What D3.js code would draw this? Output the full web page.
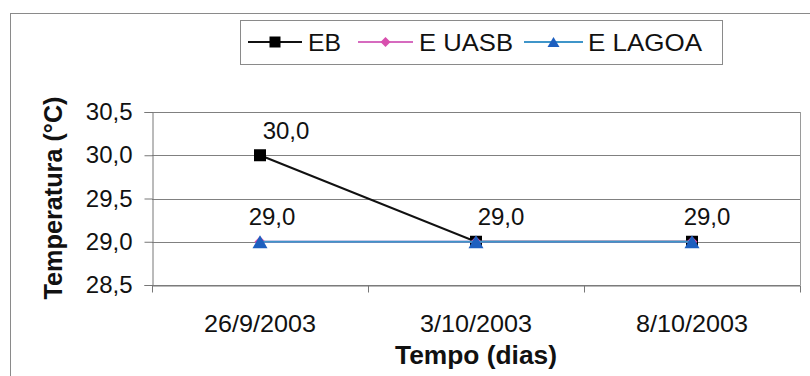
<!DOCTYPE html>
<html>
<head>
<meta charset="utf-8">
<script src="https://cdn.jsdelivr.net/npm/d3@7"></script>
<style>
  html, body { margin: 0; padding: 0; background: #fff; }
  svg { display: block; }
  text { font-family: "Liberation Sans", Arial, sans-serif; fill: #111; }
</style>
</head>
<body>
<svg id="chart" width="810" height="376"></svg>
<script>
// Sampling dates and temperatures (°C) per sampling point
const dates = ["26/9/2003", "3/10/2003", "8/10/2003"];
const ebValues = [30.0, 29.0, 29.0];
const uasbValues = [29.0, 29.0, 29.0];
const lagoaValues = [29.0, 29.0, 29.0];
const yTicks = [28.5, 29.0, 29.5, 30.0, 30.5];
const seriesNames = ["EB", "E UASB", "E LAGOA"];

// Labelled values: [series index, date index]
const labelled = [[0, 0], [2, 0], [0, 1], [0, 2]];

const series = [
  { name: seriesNames[0], values: ebValues, line: "#111", fill: "#000", marker: "square" },
  { name: seriesNames[1], values: uasbValues, line: "#d66bbf", fill: "#d84fae", marker: "diamond" },
  { name: seriesNames[2], values: lagoaValues, line: "#3f95c9", fill: "#1d5fbf", marker: "triangle" }
];

const svg = d3.select("#chart");
const plot = { left: 152, right: 800, top: 112, bottom: 285 };

const locale = d3.formatLocale({ decimal: ",", thousands: ".", grouping: [3], currency: ["R$", ""] });
const fmt = locale.format(".1f");

const x = d3.scaleBand().domain(dates).range([plot.left, plot.right]).padding(0);
const y = d3.scaleLinear().domain([28.5, 30.5]).range([plot.bottom, plot.top]);

// Outer chart frame
svg.append("rect")
  .attr("x", 10.5).attr("y", 13.5).attr("width", 830).attr("height", 400)
  .attr("fill", "none").attr("stroke", "#8a8a8a").attr("stroke-width", 1);

// Horizontal gridlines
svg.append("g")
  .selectAll("line").data(yTicks).join("line")
  .attr("x1", plot.left).attr("x2", plot.right)
  .attr("y1", d => Math.round(y(d)) + 0.5).attr("y2", d => Math.round(y(d)) + 0.5)
  .attr("stroke", "#808080").attr("stroke-width", 1);

// Right border of the plot area
svg.append("line")
  .attr("x1", plot.right + 0.5).attr("x2", plot.right + 0.5)
  .attr("y1", plot.top).attr("y2", plot.bottom)
  .attr("stroke", "#9a9a9a");

// Y axis
const yAxis = svg.append("g")
  .attr("transform", `translate(${plot.left + 0.5},0)`)
  .call(d3.axisLeft(y).tickValues(yTicks).tickSize(8).tickPadding(12).tickFormat(fmt));
yAxis.select(".domain").attr("stroke", "#777");
yAxis.selectAll(".tick line").attr("stroke", "#777");
yAxis.selectAll(".tick text")
  .attr("font-size", 24).attr("fill", "#111")
  .attr("font-family", "Liberation Sans, Arial, sans-serif");

// X axis: baseline, boundary ticks and date labels
const xAxis = svg.append("g")
  .attr("transform", `translate(0,${Math.round(plot.bottom) + 0.5})`)
  .call(d3.axisBottom(x).tickSize(0).tickPadding(29));
xAxis.select(".domain").attr("stroke", "#777");
xAxis.selectAll(".tick text")
  .attr("font-size", 24).attr("fill", "#111")
  .attr("font-family", "Liberation Sans, Arial, sans-serif")
  .attr("textLength", 112).attr("lengthAdjust", "spacingAndGlyphs");
const bounds = dates.map(d => x(d)).concat([x(dates[dates.length - 1]) + x.bandwidth()]);
xAxis.selectAll("line.bound").data(bounds).join("line")
  .attr("class", "bound")
  .attr("x1", d => Math.round(d) + 0.5).attr("x2", d => Math.round(d) + 0.5)
  .attr("y1", 0).attr("y2", 7)
  .attr("stroke", "#777");

// Axis titles
svg.append("text")
  .attr("x", 476).attr("y", 364)
  .attr("text-anchor", "middle")
  .attr("font-size", 25).attr("font-weight", "bold")
  .attr("textLength", 162).attr("lengthAdjust", "spacingAndGlyphs")
  .text("Tempo (dias)");
svg.append("text")
  .attr("transform", "translate(62,198) rotate(-90)")
  .attr("text-anchor", "middle")
  .attr("font-size", 25).attr("font-weight", "bold")
  .attr("textLength", 203).attr("lengthAdjust", "spacingAndGlyphs")
  .text("Temperatura (°C)");

// Marker shapes
function markerPath(kind, size) {
  const h = size / 2;
  if (kind === "square") return `M${-h},${-h}H${h}V${h}H${-h}Z`;
  if (kind === "diamond") return `M0,${-h}L${h},0L0,${h}L${-h},0Z`;
  return `M0,${-h}L${h + 1},${h}L${-h - 1},${h}Z`;
}
const markerSize = { square: 12, diamond: 11, triangle: 13 };

const line = d3.line().x((d, i) => x(dates[i]) + x.bandwidth() / 2).y(d => y(d));

series.forEach(s => {
  svg.append("path")
    .datum(s.values)
    .attr("d", line)
    .attr("fill", "none")
    .attr("stroke", s.line)
    .attr("stroke-width", 2);
  svg.append("g").selectAll("path").data(s.values).join("path")
    .attr("transform", (d, i) => `translate(${x(dates[i]) + x.bandwidth() / 2},${y(d)})`)
    .attr("d", markerPath(s.marker, markerSize[s.marker]))
    .attr("fill", s.fill);
});

// Value labels
const labelDx = [26, 12, 25, 15];
svg.append("g").selectAll("text").data(labelled).join("text")
  .attr("x", (d, k) => x(dates[d[1]]) + x.bandwidth() / 2 + labelDx[k])
  .attr("y", d => y(series[d[0]].values[d[1]]) - 25)
  .attr("text-anchor", "middle")
  .attr("dominant-baseline", "central")
  .attr("font-size", 24)
  .text(d => fmt(series[d[0]].values[d[1]]));

// Legend
const legend = svg.append("g");
legend.append("rect")
  .attr("x", 240.5).attr("y", 20.5).attr("width", 482).attr("height", 44)
  .attr("fill", "#fff").attr("stroke", "#8a8a8a");
const legendItems = [
  { x0: 248, x1: 302, tx: 308, tw: 33 },
  { x0: 358, x1: 413, tx: 419, tw: 94 },
  { x0: 524, x1: 583, tx: 588, tw: 114 }
];
series.forEach((s, i) => {
  const it = legendItems[i];
  const cy = 42;
  legend.append("line")
    .attr("x1", it.x0).attr("x2", it.x1).attr("y1", cy).attr("y2", cy)
    .attr("stroke", s.line).attr("stroke-width", 2);
  legend.append("path")
    .attr("transform", `translate(${(it.x0 + it.x1) / 2},${cy})`)
    .attr("d", markerPath(s.marker, s.marker === "square" ? 11 : 10))
    .attr("fill", s.fill);
  legend.append("text")
    .attr("x", it.tx).attr("y", cy)
    .attr("dominant-baseline", "central")
    .attr("font-size", 24)
    .attr("textLength", it.tw).attr("lengthAdjust", "spacingAndGlyphs")
    .text(s.name);
});
</script>
</body>
</html>
